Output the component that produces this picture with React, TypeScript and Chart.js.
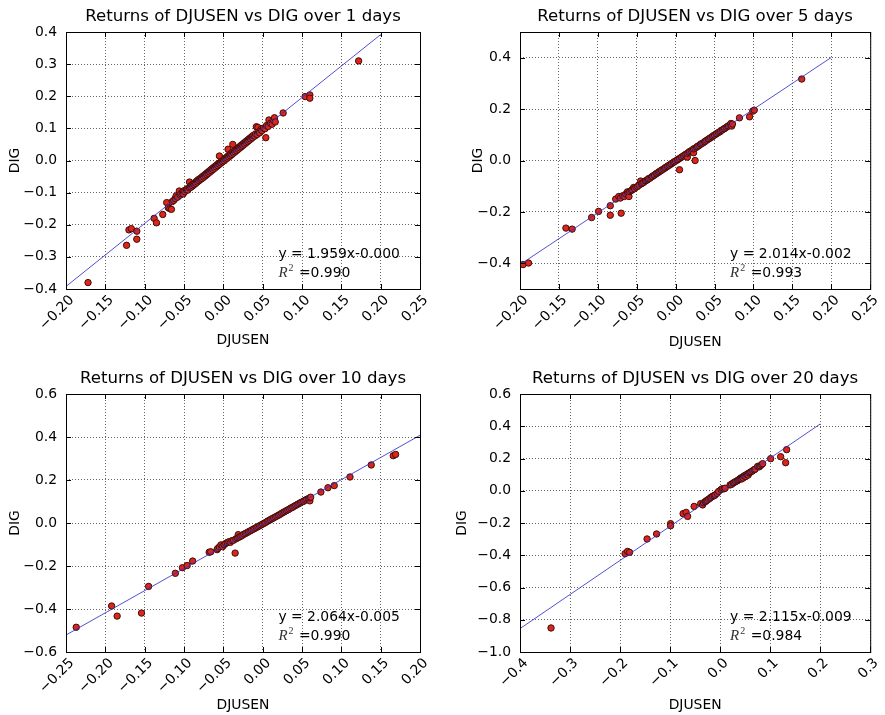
import React, { useEffect, useRef } from 'react';
import { Chart, registerables } from 'chart.js';

Chart.register(...registerables);

const FONT = "'DejaVu Sans', sans-serif";

// ---------------- data ----------------
type Pt = [number, number];

const titles = [
  'Returns of DJUSEN vs DIG over 1 days',
  'Returns of DJUSEN vs DIG over 5 days',
  'Returns of DJUSEN vs DIG over 10 days',
  'Returns of DJUSEN vs DIG over 20 days',
];
const xAxisLabel = 'DJUSEN';
const yAxisLabel = 'DIG';

const fitTexts = ['y = 1.959x-0.000', 'y = 2.014x-0.002', 'y = 2.064x-0.005', 'y = 2.115x-0.009'];
const r2Texts = ['=0.990', '=0.993', '=0.990', '=0.984'];

// regression line end points
const fit1: Pt[] = [[-0.2, -0.392], [0.2, 0.392]];
const fit2: Pt[] = [[-0.2, -0.405], [0.2, 0.401]];
const fit3: Pt[] = [[-0.25, -0.521], [0.2, 0.408]];
const fit4: Pt[] = [[-0.4, -0.855], [0.2, 0.414]];

// axis ranges
const xRange1: Pt = [-0.2, 0.25];
const yRange1: Pt = [-0.4, 0.4];
const xRange2: Pt = [-0.2, 0.25];
const yRange2: Pt = [-0.5, 0.5];
const xRange3: Pt = [-0.25, 0.2];
const yRange3: Pt = [-0.6, 0.6];
const xRange4: Pt = [-0.4, 0.3];
const yRange4: Pt = [-1.0, 0.6];

// ticks
const xTicks12 = [-0.2, -0.15, -0.1, -0.05, 0, 0.05, 0.1, 0.15, 0.2, 0.25];
const xTickLabels12 = ['\u22120.20', '\u22120.15', '\u22120.10', '\u22120.05', '0.00', '0.05', '0.10', '0.15', '0.20', '0.25'];
const yTicks1 = [-0.4, -0.3, -0.2, -0.1, 0, 0.1, 0.2, 0.3, 0.4];
const yTickLabels1 = ['\u22120.4', '\u22120.3', '\u22120.2', '\u22120.1', '0.0', '0.1', '0.2', '0.3', '0.4'];
const yTicks2 = [-0.4, -0.2, 0, 0.2, 0.4];
const yTickLabels2 = ['\u22120.4', '\u22120.2', '0.0', '0.2', '0.4'];
const xTicks3 = [-0.25, -0.2, -0.15, -0.1, -0.05, 0, 0.05, 0.1, 0.15, 0.2];
const xTickLabels3 = ['\u22120.25', '\u22120.20', '\u22120.15', '\u22120.10', '\u22120.05', '0.00', '0.05', '0.10', '0.15', '0.20'];
const yTicks3 = [-0.6, -0.4, -0.2, 0, 0.2, 0.4, 0.6];
const yTickLabels3 = ['\u22120.6', '\u22120.4', '\u22120.2', '0.0', '0.2', '0.4', '0.6'];
const xTicks4 = [-0.4, -0.3, -0.2, -0.1, 0, 0.1, 0.2, 0.3];
const xTickLabels4 = ['\u22120.4', '\u22120.3', '\u22120.2', '\u22120.1', '0.0', '0.1', '0.2', '0.3'];
const yTicks4 = [-1.0, -0.8, -0.6, -0.4, -0.2, 0, 0.2, 0.4, 0.6];
const yTickLabels4 = ['\u22121.0', '\u22120.8', '\u22120.6', '\u22120.4', '\u22120.2', '0.0', '0.2', '0.4', '0.6'];

// scatter points (DJUSEN return, DIG return)
const pts1: Pt[] = [
  [-0.172, -0.380], [-0.123, -0.264], [-0.120, -0.216], [-0.117, -0.212], [-0.110, -0.220], [-0.110, -0.245],
  [-0.088, -0.180], [-0.085, -0.194], [-0.077, -0.168], [-0.072, -0.131], [-0.070, -0.147], [-0.068, -0.150], [-0.066, -0.152],
  [-0.065, -0.128], [-0.063, -0.124], [-0.061, -0.118], [-0.060, -0.110], [-0.058, -0.114], [-0.056, -0.095], [-0.055, -0.108],
  [-0.054, -0.103], [-0.052, -0.099], [-0.051, -0.104], [-0.050, -0.094], [-0.049, -0.097], [-0.047, -0.091], [-0.046, -0.088],
  [-0.045, -0.092], [-0.043, -0.067], [-0.043, -0.085], [-0.042, -0.080], [-0.041, -0.083], [-0.040, -0.076], [-0.039, -0.079],
  [-0.038, -0.072], [-0.037, -0.075], [-0.036, -0.069], [-0.035, -0.071], [-0.034, -0.064], [-0.033, -0.067], [-0.032, -0.060],
  [-0.031, -0.063], [-0.030, -0.057], [-0.029, -0.059], [-0.028, -0.053], [-0.027, -0.056], [-0.026, -0.049], [-0.025, -0.052],
  [-0.024, -0.045], [-0.023, -0.048], [-0.022, -0.041], [-0.021, -0.044], [-0.020, -0.037], [-0.019, -0.040], [-0.018, -0.033],
  [-0.017, -0.036], [-0.016, -0.029], [-0.015, -0.032], [-0.014, -0.025], [-0.013, -0.028], [-0.012, -0.021], [-0.011, -0.024],
  [-0.010, -0.017], [-0.009, -0.020], [-0.008, -0.013], [-0.007, -0.016], [-0.006, -0.009], [-0.005, 0.014], [-0.005, -0.012],
  [-0.004, -0.006], [-0.003, -0.008], [-0.002, -0.002], [-0.001, -0.004], [0.000, 0.002], [0.001, -0.001], [0.002, 0.006],
  [0.003, 0.004], [0.004, 0.010], [0.005, 0.007], [0.006, 0.035], [0.006, 0.014], [0.007, 0.011], [0.008, 0.018], [0.009, 0.015],
  [0.010, 0.022], [0.011, 0.019], [0.012, 0.050], [0.012, 0.026], [0.013, 0.023], [0.014, 0.030], [0.015, 0.027], [0.016, 0.034],
  [0.017, 0.031], [0.018, 0.038], [0.019, 0.035], [0.020, 0.042], [0.021, 0.039], [0.022, 0.046], [0.023, 0.043], [0.024, 0.050],
  [0.025, 0.047], [0.026, 0.054], [0.027, 0.051], [0.028, 0.058], [0.029, 0.055], [0.030, 0.062], [0.031, 0.059], [0.032, 0.066],
  [0.033, 0.063], [0.034, 0.070], [0.035, 0.067], [0.036, 0.074], [0.037, 0.071], [0.038, 0.078], [0.040, 0.076], [0.041, 0.083],
  [0.042, 0.105], [0.043, 0.081], [0.044, 0.103], [0.045, 0.089], [0.046, 0.086], [0.048, 0.097], [0.049, 0.093], [0.051, 0.101],
  [0.053, 0.099], [0.054, 0.071], [0.055, 0.109], [0.057, 0.106], [0.058, 0.126], [0.060, 0.116], [0.062, 0.113], [0.064, 0.125],
  [0.065, 0.133], [0.066, 0.120], [0.076, 0.148], [0.104, 0.199], [0.110, 0.204], [0.110, 0.194], [0.172, 0.310],
];

const pts2: Pt[] = [
  [-0.196, -0.405], [-0.189, -0.399], [-0.141, -0.263], [-0.133, -0.267], [-0.108, -0.222], [-0.099, -0.198], [-0.084, -0.176],
  [-0.084, -0.213], [-0.070, -0.205], [-0.077, -0.150], [-0.073, -0.140], [-0.071, -0.146], [-0.068, -0.137], [-0.066, -0.140],
  [-0.064, -0.131], [-0.062, -0.122], [-0.061, -0.128], [-0.060, -0.140], [-0.059, -0.121], [-0.057, -0.117], [-0.056, -0.114],
  [-0.054, -0.105], [-0.053, -0.110], [-0.051, -0.104], [-0.049, -0.101], [-0.047, -0.096], [-0.045, -0.080], [-0.044, -0.091],
  [-0.043, -0.088], [-0.041, -0.085], [-0.039, -0.080], [-0.038, -0.078], [-0.036, -0.075], [-0.035, -0.071], [-0.033, -0.069],
  [-0.031, -0.064], [-0.030, -0.062], [-0.028, -0.058], [-0.027, -0.056], [-0.025, -0.052], [-0.024, -0.049], [-0.022, -0.046],
  [-0.021, -0.043], [-0.019, -0.040], [-0.018, -0.037], [-0.016, -0.034], [-0.014, -0.030], [-0.013, -0.027], [-0.011, -0.024],
  [-0.010, -0.021], [-0.008, -0.018], [-0.006, -0.014], [-0.005, -0.011], [-0.003, -0.008], [-0.002, -0.005], [0.000, -0.002],
  [0.002, 0.002], [0.003, 0.004], [0.005, -0.036], [0.005, 0.008], [0.007, 0.012], [0.008, 0.014], [0.010, 0.018], [0.012, 0.022],
  [0.013, 0.024], [0.015, 0.013], [0.015, 0.028], [0.017, 0.032], [0.018, 0.035], [0.020, 0.038], [0.022, 0.042], [0.023, 0.030],
  [0.023, 0.045], [0.025, 0.000], [0.025, 0.048], [0.027, 0.052], [0.028, 0.055], [0.030, 0.058], [0.032, 0.063], [0.033, 0.065],
  [0.035, 0.068], [0.037, 0.072], [0.038, 0.075], [0.040, 0.079], [0.042, 0.083], [0.043, 0.085], [0.045, 0.089], [0.047, 0.092],
  [0.048, 0.096], [0.050, 0.099], [0.052, 0.103], [0.053, 0.105], [0.055, 0.109], [0.057, 0.112], [0.058, 0.116], [0.060, 0.119],
  [0.062, 0.123], [0.063, 0.125], [0.065, 0.129], [0.067, 0.133], [0.068, 0.135], [0.070, 0.139], [0.071, 0.144], [0.072, 0.134],
  [0.073, 0.142], [0.082, 0.166], [0.095, 0.170], [0.099, 0.192], [0.101, 0.196], [0.162, 0.317],
];

const pts3: Pt[] = [
  [-0.237, -0.485], [-0.192, -0.386], [-0.185, -0.433], [-0.154, -0.419], [-0.145, -0.295], [-0.111, -0.234], [-0.102, -0.208],
  [-0.096, -0.198], [-0.089, -0.177], [-0.068, -0.136], [-0.066, -0.134], [-0.058, -0.124], [-0.057, -0.118], [-0.055, -0.111],
  [-0.053, -0.102], [-0.051, -0.110], [-0.049, -0.101], [-0.047, -0.095], [-0.045, -0.091], [-0.043, -0.087], [-0.041, -0.090],
  [-0.039, -0.082], [-0.037, -0.080], [-0.035, -0.140], [-0.034, -0.074], [-0.032, -0.069], [-0.031, -0.054], [-0.030, -0.066],
  [-0.028, -0.062], [-0.026, -0.058], [-0.024, -0.052], [-0.022, -0.049], [-0.020, -0.045], [-0.018, -0.041], [-0.016, -0.037],
  [-0.014, -0.033], [-0.012, -0.029], [-0.010, -0.025], [-0.008, -0.021], [-0.006, -0.017], [-0.004, -0.013], [-0.002, -0.009],
  [0.000, -0.005], [0.002, -0.001], [0.004, 0.003], [0.006, 0.008], [0.008, 0.012], [0.010, 0.016], [0.012, 0.020], [0.014, 0.024],
  [0.016, 0.028], [0.018, 0.032], [0.020, 0.036], [0.022, 0.040], [0.024, 0.045], [0.026, 0.049], [0.028, 0.053], [0.030, 0.057],
  [0.032, 0.061], [0.034, 0.065], [0.036, 0.070], [0.038, 0.073], [0.040, 0.078], [0.042, 0.082], [0.044, 0.086], [0.046, 0.090],
  [0.048, 0.094], [0.050, 0.098], [0.052, 0.101], [0.054, 0.106], [0.056, 0.110], [0.058, 0.113], [0.060, 0.103], [0.060, 0.117],
  [0.061, 0.120], [0.074, 0.144], [0.083, 0.164], [0.091, 0.174], [0.111, 0.214], [0.138, 0.270], [0.166, 0.313], [0.169, 0.319],
];

const pts4: Pt[] = [
  [-0.338, -0.851], [-0.190, -0.390], [-0.185, -0.376], [-0.181, -0.382], [-0.146, -0.299], [-0.127, -0.268], [-0.099, -0.204],
  [-0.099, -0.217], [-0.074, -0.142], [-0.068, -0.134], [-0.065, -0.159], [-0.052, -0.097], [-0.039, -0.080], [-0.035, -0.088],
  [-0.033, -0.075], [-0.030, -0.068], [-0.028, -0.064], [-0.026, -0.059], [-0.023, -0.052], [-0.020, -0.046], [-0.018, -0.040],
  [-0.015, -0.034], [-0.012, -0.031], [-0.010, -0.026], [-0.006, -0.016], [-0.003, -0.004], [0.002, 0.008], [0.005, 0.013],
  [0.008, 0.012], [0.010, 0.016], [0.020, 0.036], [0.023, 0.040], [0.026, 0.048], [0.028, 0.051], [0.031, 0.057], [0.034, 0.061],
  [0.036, 0.066], [0.038, 0.070], [0.040, 0.076], [0.042, 0.080], [0.043, 0.073], [0.045, 0.085], [0.046, 0.079], [0.048, 0.092],
  [0.050, 0.095], [0.051, 0.088], [0.053, 0.100], [0.055, 0.105], [0.056, 0.097], [0.058, 0.110], [0.060, 0.114], [0.062, 0.118],
  [0.065, 0.124], [0.068, 0.130], [0.070, 0.134], [0.075, 0.151], [0.078, 0.148], [0.080, 0.155], [0.083, 0.162], [0.085, 0.168],
  [0.101, 0.199], [0.121, 0.211], [0.133, 0.255], [0.131, 0.174],
];

// ---------------- layout (cell + plot area inside the page) ----------------
interface PanelCfg {
  title: string;
  pts: Pt[];
  fit: Pt[];
  xRange: Pt;
  yRange: Pt;
  xTicks: number[];
  xTickLabels: string[];
  yTicks: number[];
  yTickLabels: string[];
  fitText: string;
  r2Text: string;
  cell: { x: number; y: number; w: number; h: number };
  area: { l: number; r: number; t: number; b: number };
  xLabelDy: number;
  yLabelDx: number;
}

const panels: PanelCfg[] = [
  {
    title: titles[0], pts: pts1, fit: fit1, xRange: xRange1, yRange: yRange1,
    xTicks: xTicks12, xTickLabels: xTickLabels12, yTicks: yTicks1, yTickLabels: yTickLabels1,
    fitText: fitTexts[0], r2Text: r2Texts[0],
    cell: { x: 0, y: 0, w: 442, h: 357 }, area: { l: 66, r: 420, t: 32, b: 289 },
    xLabelDy: 54.5, yLabelDx: 47,
  },
  {
    title: titles[1], pts: pts2, fit: fit2, xRange: xRange2, yRange: yRange2,
    xTicks: xTicks12, xTickLabels: xTickLabels12, yTicks: yTicks2, yTickLabels: yTickLabels2,
    fitText: fitTexts[1], r2Text: r2Texts[1],
    cell: { x: 442, y: 0, w: 443, h: 357 }, area: { l: 520, r: 874, t: 32, b: 289 },
    xLabelDy: 56.5, yLabelDx: 38.5,
  },
  {
    title: titles[2], pts: pts3, fit: fit3, xRange: xRange3, yRange: yRange3,
    xTicks: xTicks3, xTickLabels: xTickLabels3, yTicks: yTicks3, yTickLabels: yTickLabels3,
    fitText: fitTexts[2], r2Text: r2Texts[2],
    cell: { x: 0, y: 357, w: 442, h: 358 }, area: { l: 66, r: 420, t: 394, b: 652 },
    xLabelDy: 57, yLabelDx: 47,
  },
  {
    title: titles[3], pts: pts4, fit: fit4, xRange: xRange4, yRange: yRange4,
    xTicks: xTicks4, xTickLabels: xTickLabels4, yTicks: yTicks4, yTickLabels: yTickLabels4,
    fitText: fitTexts[3], r2Text: r2Texts[3],
    cell: { x: 442, y: 357, w: 443, h: 358 }, area: { l: 520, r: 878, t: 394, b: 652 },
    xLabelDy: 57, yLabelDx: 54.5,
  },
];

const Y_AXIS_W = 60;
const X_AXIS_H = 60;

function Panel({ cfg }: { cfg: PanelCfg }) {
  const ref = useRef<HTMLCanvasElement | null>(null);

  useEffect(() => {
    const canvas = ref.current;
    if (!canvas) return;
    const { cell, area } = cfg;
    const padLeft = area.l - cell.x - Y_AXIS_W;
    const padRight = cell.x + cell.w - area.r;
    const padTop = area.t - cell.y;
    const padBottom = cell.y + cell.h - area.b - X_AXIS_H;

    const deco = {
      id: 'deco',
      afterDraw(chart: any) {
        const ctx: CanvasRenderingContext2D = chart.ctx;
        const { left, right, top, bottom } = chart.chartArea;
        const xs = chart.scales.x;
        const ys = chart.scales.y;
        ctx.save();
        // frame
        ctx.strokeStyle = '#000';
        ctx.lineWidth = 1;
        ctx.setLineDash([]);
        ctx.strokeRect(left + 0.5, top + 0.5, right - left, bottom - top);
        // inward ticks on all sides
        ctx.beginPath();
        const TL = 5;
        cfg.xTicks.forEach((v) => {
          const px = Math.round(xs.getPixelForValue(v)) + 0.5;
          ctx.moveTo(px, bottom);
          ctx.lineTo(px, bottom - TL);
          ctx.moveTo(px, top);
          ctx.lineTo(px, top + TL);
        });
        cfg.yTicks.forEach((v) => {
          const py = Math.round(ys.getPixelForValue(v)) + 0.5;
          ctx.moveTo(left, py);
          ctx.lineTo(left + TL, py);
          ctx.moveTo(right, py);
          ctx.lineTo(right - TL, py);
        });
        ctx.stroke();

        // title
        ctx.fillStyle = '#000';
        ctx.font = `16.6px ${FONT}`;
        ctx.textAlign = 'center';
        ctx.textBaseline = 'alphabetic';
        ctx.fillText(cfg.title, (left + right) / 2, top - 11.5);

        // x label
        ctx.font = `13.9px ${FONT}`;
        ctx.fillText(xAxisLabel, (left + right) / 2, bottom + cfg.xLabelDy);

        // y label
        ctx.save();
        ctx.translate(left - cfg.yLabelDx, (top + bottom) / 2);
        ctx.rotate(-Math.PI / 2);
        ctx.textAlign = 'center';
        ctx.fillText(yAxisLabel, 0, 0);
        ctx.restore();

        // regression annotation
        const w = right - left;
        const h = bottom - top;
        const tx = left + 0.6 * w;
        const ty = top + 0.88 * h;
        ctx.textAlign = 'left';
        ctx.font = `13.9px ${FONT}`;
        ctx.fillText(cfg.fitText, tx, ty);
        const ty2 = ty + 18.5;
        ctx.font = `italic 15px 'Liberation Serif', serif`;
        ctx.fillStyle = '#333';
        ctx.fillText('R', tx, ty2);
        const rw = ctx.measureText('R').width;
        ctx.font = `10px 'Liberation Serif', serif`;
        ctx.fillText('2', tx + rw + 1, ty2 - 6);
        ctx.fillStyle = '#000';
        ctx.font = `13.9px ${FONT}`;
        ctx.fillText(' ' + cfg.r2Text, tx + rw + 7, ty2);
        ctx.restore();
      },
    };

    const chart = new Chart(canvas, {
      type: 'scatter',
      data: {
        datasets: [
          {
            data: cfg.fit.map(([x, y]) => ({ x, y })),
            showLine: true,
            borderColor: 'rgba(50,50,200,0.85)',
            borderWidth: 1,
            pointRadius: 0,
            fill: false,
            order: 0,
          } as any,
          {
            data: cfg.pts.map(([x, y]) => ({ x, y })),
            backgroundColor: '#e0241a',
            borderColor: '#3a0f0c',
            borderWidth: 1,
            pointRadius: 3.2,
            order: 1,
          },
        ],
      },
      options: {
        animation: false,
        responsive: false,
        maintainAspectRatio: false,
        devicePixelRatio: 1,
        events: [],
        layout: { padding: { left: padLeft, right: padRight, top: padTop, bottom: padBottom } },
        plugins: {
          legend: { display: false },
          tooltip: { enabled: false },
          title: { display: false },
        },
        scales: {
          x: {
            type: 'linear',
            min: cfg.xRange[0],
            max: cfg.xRange[1],
            afterBuildTicks: (s: any) => {
              s.ticks = cfg.xTicks.map((v) => ({ value: v }));
            },
            afterFit: (s: any) => {
              s.height = X_AXIS_H;
            },
            ticks: {
              autoSkip: false,
              minRotation: 45,
              maxRotation: 45,
              padding: 3,
              labelOffset: 6,
              color: '#000',
              font: { family: FONT, size: 13.9 },
              callback: (_v: any, i: number) => cfg.xTickLabels[i],
            },
            grid: { color: 'rgba(0,0,0,0.6)', lineWidth: 1, drawTicks: false },
            border: { display: false, dash: [1, 2] },
          },
          y: {
            type: 'linear',
            min: cfg.yRange[0],
            max: cfg.yRange[1],
            afterBuildTicks: (s: any) => {
              s.ticks = cfg.yTicks.map((v) => ({ value: v }));
            },
            afterFit: (s: any) => {
              s.width = Y_AXIS_W;
            },
            ticks: {
              autoSkip: false,
              padding: 9,
              color: '#000',
              font: { family: FONT, size: 13.9 },
              callback: (_v: any, i: number) => cfg.yTickLabels[i],
            },
            grid: { color: 'rgba(0,0,0,0.6)', lineWidth: 1, drawTicks: false },
            border: { display: false, dash: [1, 2] },
          },
        },
      },
      plugins: [deco],
    } as any);

    return () => chart.destroy();
  }, [cfg]);

  return (
    <canvas
      ref={ref}
      width={cfg.cell.w}
      height={cfg.cell.h}
      style={{
        position: 'absolute',
        left: cfg.cell.x,
        top: cfg.cell.y,
        width: cfg.cell.w,
        height: cfg.cell.h,
      }}
    />
  );
}

export default function App() {
  return (
    <div
      style={{
        position: 'absolute',
        left: 0,
        top: 0,
        width: 885,
        height: 715,
        background: '#fff',
        overflow: 'hidden',
      }}
    >
      {panels.map((p, i) => (
        <Panel key={i} cfg={p} />
      ))}
    </div>
  );
}
